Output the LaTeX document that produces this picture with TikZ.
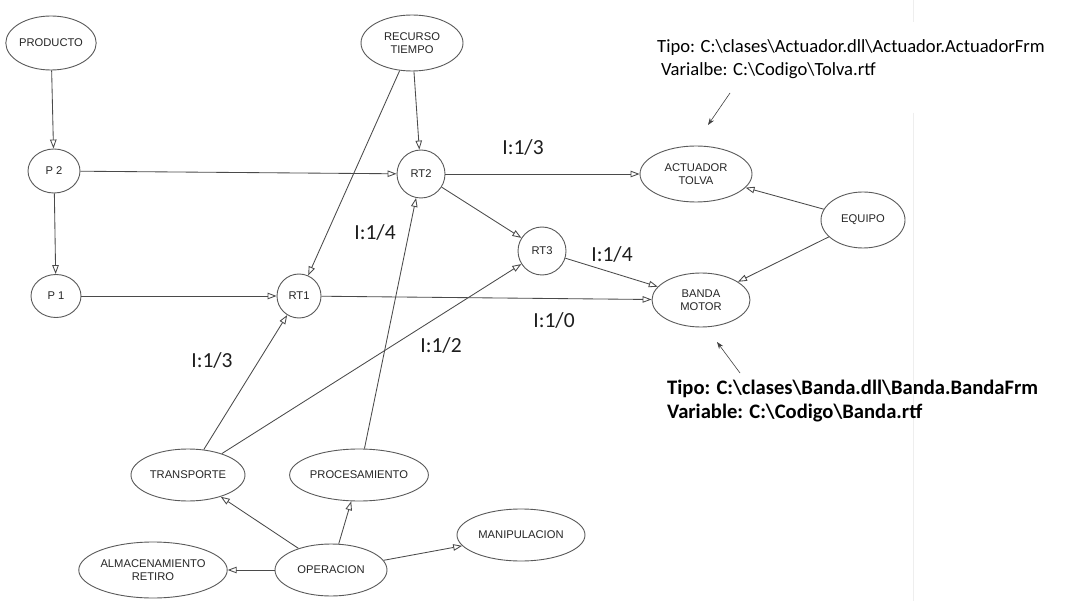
\documentclass[tikz,border=0pt]{standalone}
\usepackage{fontspec}
\setmainfont{Carlito}
\newfontfamily\arialf{Liberation Sans}
\usetikzlibrary{shapes.geometric,arrows.meta}
\definecolor{edgec}{HTML}{4A4A4A}
\definecolor{nodec}{HTML}{5A5A5A}
\definecolor{ntext}{HTML}{262626}
\definecolor{lbltext}{HTML}{1E1E1E}
\definecolor{faintc}{HTML}{EEEEEE}
\newcommand{\bsl}{\textbackslash}
\begin{document}
\begin{tikzpicture}[x=1pt,y=-1pt,
 gnode/.style={ellipse,draw=nodec,line width=0.9pt,inner sep=0pt,text=ntext,font=\arialf\fontsize{11.2}{13}\selectfont,align=center},
 gcirc/.style={circle,draw=nodec,line width=0.9pt,inner sep=0pt,text=ntext,font=\arialf\fontsize{11.2}{13}\selectfont},
 edge/.style={draw=edgec,line width=0.85pt,-{Triangle[open,length=9pt,width=6.5pt]}},
 lbl/.style={font=\fontsize{21.5}{24}\selectfont,text=lbltext,anchor=base,inner sep=0pt},
 note/.style={font=\fontsize{18.6}{23}\selectfont,text=black,anchor=base west,inner sep=0pt},
 notebold/.style={font=\bfseries\fontsize{20.6}{23}\selectfont,text=black,anchor=base west,inner sep=0pt},
 notearrow/.style={draw=black!75,line width=0.6pt,-{Stealth[length=7pt,width=5pt]}}]
\useasboundingbox (0,0) rectangle (1075,601);
\fill[white] (0,0) rectangle (1075,601);
\draw[faintc,line width=1pt] (913,0) -- (913,22);
\draw[faintc,line width=1pt] (913,113) -- (913,601);

% nodes
\node[gnode,minimum width=82pt,minimum height=54pt] (prod) at (51,43) {PRODUCTO};
\node[gnode,minimum width=52pt,minimum height=44pt] (p2) at (54,171) {P 2};
\node[gnode,minimum width=50pt,minimum height=43pt] (p1) at (56,296) {P 1};
\node[gnode,minimum width=102pt,minimum height=56pt] (rec) at (412,43) {RECURSO\\TIEMPO};
\node[gcirc,minimum size=48pt] (rt2) at (421,174) {RT2};
\node[gcirc,minimum size=44pt] (rt1) at (299,296) {RT1};
\node[gcirc,minimum size=48pt] (rt3) at (542,251) {RT3};
\node[gnode,minimum width=112pt,minimum height=56pt] (act) at (696,174) {ACTUADOR\\TOLVA};
\node[gnode,minimum width=84pt,minimum height=56pt] (equ) at (863,220) {EQUIPO};
\node[gnode,minimum width=98pt,minimum height=54pt] (banda) at (701,300) {BANDA\\MOTOR};
\node[gnode,minimum width=114pt,minimum height=52pt] (trans) at (188,475) {TRANSPORTE};
\node[gnode,minimum width=130pt,minimum height=52pt] (proc) at (359,475) {PROCESAMIENTO};
\node[gnode,minimum width=128pt,minimum height=52pt] (mani) at (521,535) {MANIPULACION};
\node[gnode,minimum width=112pt,minimum height=52pt] (oper) at (331,570) {OPERACION};
\node[gnode,minimum width=142pt,minimum height=56pt] (alm) at (153,570) {ALMACENAMIENTO\\RETIRO};

% edges
\draw[edge] (prod) -- (p2);
\draw[edge] (p2) -- (p1);
\draw[edge] (p2) -- (rt2);
\draw[edge] (p1) -- (rt1);
\draw[edge] (rec) -- (rt2);
\draw[edge] (rec) -- (rt1);
\draw[edge] (rt2) -- (act);
\draw[edge] (rt2) -- (rt3);
\draw[edge] (rt3) -- (banda);
\draw[edge] (rt1) -- (banda);
\draw[edge] (equ) -- (act);
\draw[edge] (equ) -- (banda);
\draw[edge] (trans) -- (rt1);
\draw[edge] (trans) -- (rt3);
\draw[edge] (proc) -- (rt2);
\draw[edge] (oper) -- (trans);
\draw[edge] (oper) -- (proc);
\draw[edge] (oper) -- (mani);
\draw[edge] (oper) -- (alm);

% edge labels
\node[lbl] (l1) at (523,155) {I:1/3};
\node[lbl] (l2) at (375,240) {I:1/4};
\node[lbl] (l3) at (612,262) {I:1/4};
\node[lbl] (l4) at (554,327) {I:1/0};
\node[lbl] (l5) at (212,367) {I:1/3};
\node[lbl] (l6) at (441,352) {I:1/2};

% notes
\node[note] (n1) at (657,53) {Tipo: C:\bsl clases\bsl Actuador.dll\bsl Actuador.ActuadorFrm};
\node[note] (n2) at (661,76) {Varialbe: C:\bsl Codigo\bsl Tolva.rtf};
\node[notebold] (n3) at (667,394) {Tipo: C:\bsl clases\bsl Banda.dll\bsl Banda.BandaFrm};
\node[notebold] (n4) at (667,418) {Variable: C:\bsl Codigo\bsl Banda.rtf};

\coordinate (a1s) at (730,93);
\coordinate (a1e) at (708,125);
\coordinate (a2s) at (740,373);
\coordinate (a2e) at (717,342);
\draw[notearrow] (a1s) -- (a1e);
\draw[notearrow] (a2s) -- (a2e);
\end{tikzpicture}
\end{document}
